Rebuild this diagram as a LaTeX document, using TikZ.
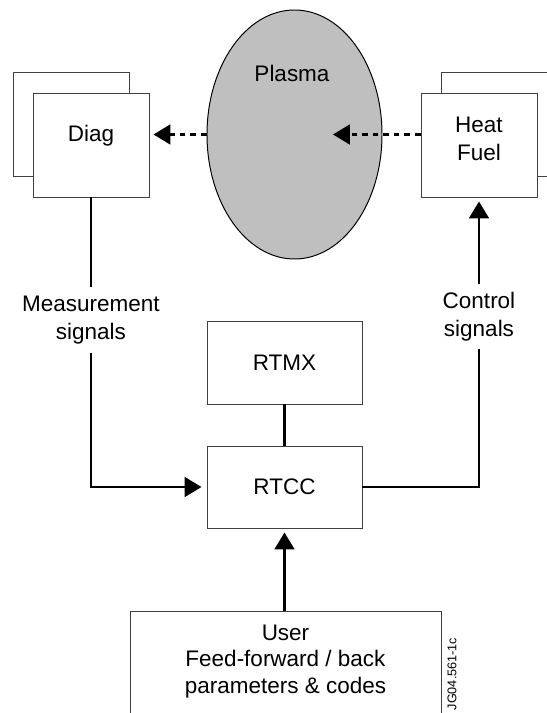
\documentclass[tikz,border=0pt]{standalone}
\usepackage{fontspec}
\setmainfont{Liberation Sans}
\usetikzlibrary{arrows.meta,shapes.geometric}

\begin{document}
\begin{tikzpicture}[
  box/.style={draw=black!75,line width=0.7pt,fill=white,minimum width=2.9cm,minimum height=2.6cm},
  wbox/.style={draw=black!75,line width=0.7pt,fill=white,minimum width=3.875cm,minimum height=2.05cm,font=\fontsize{16}{20}\selectfont},
  txt/.style={font=\fontsize{16}{20}\selectfont,align=center,inner sep=0pt},
  sig/.style={line width=1.9pt},
  sigarrow/.style={sig,-{Triangle[length=12pt,width=14pt]}},
  dasharrow/.style={sigarrow,dash pattern=on 4pt off 3.5pt}
]
\useasboundingbox (0,0) rectangle (13.675,17.825);
\clip (0,0) rectangle (13.675,17.825);
% diagnostics
\node[box] (diagback) at (1.775,14.725) {};
\node[box] (diag) at (2.275,14.2) {};
\node[txt] (diaglbl) at (2.275,14.425) {Diag};
% heating and fuelling
\node[box] (heatback) at (12.475,14.7125) {};
\node[box] (heat) at (11.975,14.2) {};
\node[txt] (heatlbl) at (11.975,14.35) {Heat\\Fuel};
% plasma
\node[ellipse,draw,line width=0.7pt,fill=black!25,minimum width=4.375cm,minimum height=6.225cm] (plasma) at (7.3625,14.4625) {};
\node[txt] (plasmalbl) at (7.3,16.0) {Plasma};
\coordinate (fueltip) at ([xshift=0.9625cm]plasma.center);
% real time control
\node[wbox,minimum height=2.075cm] (rtmx) at (7.1125,8.7625) {RTMX};
\node[wbox] (rtcc) at (7.1125,5.65) {RTCC};
\node[draw=black!75,line width=0.7pt,minimum width=7.775cm,minimum height=3cm,anchor=north] (user) at (7.1375,2.55) {};
\node[txt,font=\fontsize{16}{19}\selectfont] (userlbl) at (7.1375,1.29) {User\\Feed-forward / back\\parameters \& codes};
% signal labels
\node[txt,minimum height=1.65cm] (meas) at (2.275,9.825) {Measurement\\signals};
\node[txt,minimum height=1.6cm] (ctrl) at (11.975,9.9125) {Control\\signals};
\node[rotate=90,font=\fontsize{9}{10}\selectfont,inner sep=0pt] (figid) at (11.3,0.975) {JG04.561-1c};
% connectors
\draw[dasharrow,shorten >=0.1cm] (plasma.west) -- (plasma.west-|diag.east);
\draw[dasharrow] (heat.west|-fueltip) -- (fueltip);
\draw[sig] (diag.south) -- (meas.north);
\draw[sigarrow,shorten >=0.125cm] (meas.south) |- (rtcc.west);
\draw[sig] (rtcc.east) -| (ctrl.south);
\draw[sigarrow,shorten >=0.1cm] (ctrl.north) -- (heat.south);
\draw[sig] (rtmx.south) -- (rtcc.north);
\draw[sigarrow,shorten >=0.1cm] (user.north-|rtcc.south) -- (rtcc.south);
\end{tikzpicture}
\end{document}
